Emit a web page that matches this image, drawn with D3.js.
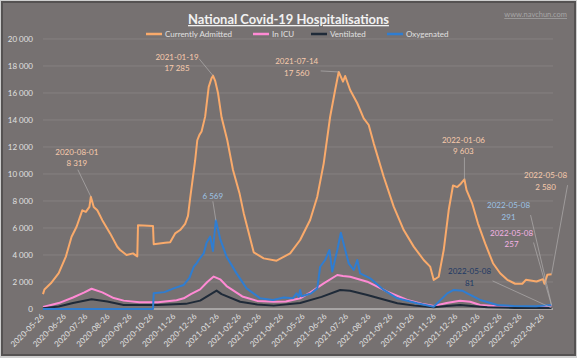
<!DOCTYPE html>
<html><head><meta charset="utf-8">
<script src="https://cdn.jsdelivr.net/npm/d3@7"></script>
<style>
html,body{margin:0;padding:0;background:#767171;}
svg{display:block;font-family:Lato,"Open Sans",sans-serif;}
</style></head>
<body>
<svg id="chart" width="577" height="358"></svg>
<script>
// ---------- DATA ----------
const startDate = "2020-05-26";
const seriesNames = ["Currently Admitted", "In ICU", "Ventilated", "Oxygenated"];

// days since startDate / values
const admittedDay = [0,2,11,22,32,40,47,55,60,65,67,71,76,83,94,104,108,117,126,132,133,154,155,163,171,178,185,192,199,203,206,209,213,216,219,222,227,232,236,238,241,245,250,258,266,275,281,287,295,309,327,346,360,374,384,393,402,409,414,420,423,430,440,449,456,463,477,491,505,519,533,542,547,554,561,568,574,580,585,590,593,601,609,619,630,640,650,661,671,676,691,700,702,706,712];
const admittedVal = [1100,1450,1900,2650,3880,5350,6090,7310,7190,7560,8319,7560,7310,6580,5600,4610,4370,4000,4120,3900,6200,6150,4800,4850,4900,4950,5600,5850,6300,6900,8200,9400,11000,12500,12900,13150,14250,16450,17100,17285,16900,16000,14200,12500,10300,8600,7100,5850,4200,3750,3580,4120,5110,6590,8320,10790,14240,16220,17560,16840,17260,16220,15240,14120,13630,12270,9800,7580,5850,4620,3630,3140,2150,2390,4370,7330,9150,9030,9280,9603,8800,7800,6330,4860,3390,2650,2160,1870,1870,2160,2040,2210,1870,2530,2580];

const icuDay = [0,22,42,58,68,83,99,113,135,161,187,197,207,220,230,239,248,257,264,279,300,323,340,360,372,393,412,420,430,454,482,510,530,547,565,584,598,612,636,659,690,712];
const icuVal = [150,440,850,1230,1500,1230,810,620,500,500,650,790,1100,1450,2000,2400,2200,1700,1450,930,600,540,550,790,1150,1900,2520,2450,2390,2020,1280,670,390,220,450,615,540,300,200,150,150,257];

const ventDay = [0,22,42,68,90,113,160,200,220,243,250,276,300,323,360,390,416,430,454,496,520,547,565,584,600,622,660,712];
const ventVal = [60,180,450,720,550,300,300,380,620,1360,1100,540,330,250,450,900,1410,1350,1040,420,250,125,230,300,220,125,80,81];

const oxyDay = [0,154,155,170,183,197,205,211,215,218,225,229,234,238,239,242,248,257,271,285,304,322,337,350,355,358,360,362,375,384,388,395,401,405,412,417,422,428,435,440,444,458,477,496,524,547,566,575,587,594,612,636,659,690,712];
const oxyVal = [0,0,1160,1250,1530,1780,2300,3130,3380,3630,4120,4900,5360,4300,5000,6569,5200,3870,2640,1530,790,670,850,800,1160,900,1410,950,1150,1530,3130,3630,4370,2770,4370,5650,4620,3380,2890,3630,2640,2270,1410,790,420,170,1160,1410,1360,1160,670,300,220,200,291];

const yTicks = [0,2000,4000,6000,8000,10000,12000,14000,16000,18000,20000];
const xTickLabels = ["2020-05-26","2020-06-26","2020-07-26","2020-08-26","2020-09-26","2020-10-26","2020-11-26","2020-12-26","2021-01-26","2021-02-26","2021-03-26","2021-04-26","2021-05-26","2021-06-26","2021-07-26","2021-08-26","2021-09-26","2021-10-26","2021-11-26","2021-12-26","2022-01-26","2022-02-26","2022-03-26","2022-04-26"];

// annotated points: series index, date, value
const annotSeries = [0,0,3,0,0,0,3,1,2];
const annotDate  = ["2020-08-01","2021-01-19","2021-01-23","2021-07-14","2022-01-06","2022-05-08","2022-05-08","2022-05-08","2022-05-08"];
const annotValue = [8319,17285,6569,17560,9603,2580,291,257,81];
const annotShowDate = [true,true,false,true,true,true,true,true,true];

// ---------- LAYOUT / STYLE ----------
const W = 577, H = 358;
const colors = ["#F9AA6B", "#FF8AD4", "#1F2A38", "#2F7DD1"];
const labelColors = ["#F8CBAD", "#F5B3E6", "#203864", "#9DC3E6"];
const parse = d3.utcParse("%Y-%m-%d");
const fmtDate = d3.utcFormat("%Y-%m-%d");
const locale = d3.formatLocale({decimal: ".", thousands: " ", grouping: [3], currency: ["", ""]});
const fmtNum = locale.format(",");
const t0 = parse(startDate);
const dayToDate = d => d3.utcDay.offset(t0, d);

const svg = d3.select("#chart");
svg.append("rect").attr("x", 0).attr("y", 0).attr("width", W).attr("height", H).attr("fill", "#CFCFCF");
svg.append("rect").attr("x", 2).attr("y", 2).attr("width", W - 4).attr("height", H - 5)
  .attr("fill", "#767171").attr("stroke", "#555252").attr("stroke-width", 2);

const x = d3.scaleUtc().domain([parse("2020-05-26"), parse("2022-05-10")]).range([43, 553]);
const y = d3.scaleLinear().domain([0, 20000]).range([309, 39]);

// gridlines
svg.append("g").selectAll("line").data(yTicks.filter(v => v > 0)).join("line")
  .attr("x1", 43).attr("x2", 553)
  .attr("y1", d => y(d)).attr("y2", d => y(d))
  .attr("stroke", "#8A8585").attr("stroke-width", 0.8);

// y axis
const yAxis = d3.axisLeft(y).tickValues(yTicks).tickFormat(fmtNum).tickSize(0).tickPadding(6);
const gy = svg.append("g").attr("transform", "translate(39,0)").call(yAxis);
gy.select(".domain").remove();
gy.selectAll("text").attr("fill", "#E0E0E0").style("font-size", "8px").style("font-family", "Lato");

// x axis
const xAxis = d3.axisBottom(x).tickValues(xTickLabels.map(parse)).tickFormat(fmtDate).tickSize(0);
const gx = svg.append("g").attr("transform", "translate(0,309)").call(xAxis);
gx.select(".domain").attr("stroke", "#D9D9D9").attr("stroke-width", 1).attr("d", "M43,0H553");
gx.selectAll("text").attr("fill", "#E0E0E0").style("font-size", "8px").style("font-family", "Lato")
  .attr("text-anchor", "end").attr("dy", "0").attr("y", 0)
  .attr("transform", "translate(1,8) rotate(-45)");

// lines
const seriesDays = [admittedDay, icuDay, ventDay, oxyDay];
const seriesVals = [admittedVal, icuVal, ventVal, oxyVal];
const line = d3.line().x(d => x(d[0])).y(d => y(d[1]));
seriesDays.forEach((days, i) => {
  const pts = days.map((d, k) => [dayToDate(d), seriesVals[i][k]]);
  svg.append("path").datum(pts).attr("d", line)
    .attr("fill", "none").attr("stroke", colors[i]).attr("stroke-width", 2)
    .attr("stroke-linejoin", "round");
});

// title
const title = svg.append("text").attr("x", 288.5).attr("y", 24).attr("text-anchor", "middle")
  .attr("fill", "#F2F2F2").style("font-weight", "bold").style("font-size", "13px")
  .style("text-decoration", "underline").text("National Covid-19 Hospitalisations");
{
  const w = title.node().getComputedTextLength();
  title.style("font-size", (13 * 201 / w).toFixed(2) + "px");
}

// watermark
svg.append("text").attr("x", 567).attr("y", 17).attr("text-anchor", "end")
  .attr("fill", "#A6A6A6").style("font-size", "7.5px").style("text-decoration", "underline")
  .text("www.navchun.com");

// legend
const legendX = [146, 253, 311, 387];
seriesNames.forEach((n, i) => {
  const g = svg.append("g").attr("transform", `translate(${legendX[i]},34)`);
  g.append("line").attr("x1", 0).attr("x2", 16).attr("y1", 0).attr("y2", 0)
    .attr("stroke", colors[i]).attr("stroke-width", 2.5);
  g.append("text").attr("x", 19).attr("y", 3).attr("fill", "#E0E0E0")
    .style("font-size", "8px").text(n);
});

// annotations: label centre offset from point (dx, dy), leader start offset
const annotLabelDX = [-14, -36, -3, -42, -1, -6, -43, -40, -82];
const annotLabelDY = [-39, -13, -24, -5, -34, -93, -94, -67, -31];
annotSeries.forEach((s, i) => {
  const px = x(parse(annotDate[i])), py = y(annotValue[i]);
  const cx = px + annotLabelDX[i], cy = py + annotLabelDY[i];
  const g = svg.append("g");
  const lines = annotShowDate[i] ? [annotDate[i], fmtNum(annotValue[i])] : [fmtNum(annotValue[i])];
  // leader
  const lx = annotShowDate[i] ? cx + 1 : cx;
  let ly = cy + (lines.length === 2 ? 12 : 5);
  let sx = lx, sy = ly;
  if (i === 1) { sx = cx + 22; sy = cy - 4; }
  if (i === 3) { sx = cx + 24; sy = cy + 4; }
  if (i >= 5) { sx = cx + 22 + (i === 8 ? 1 : 0); sy = cy + 4; }
  g.append("line").attr("x1", sx).attr("y1", sy).attr("x2", px).attr("y2", py)
    .attr("stroke", "#B0ADAD").attr("stroke-width", 0.7);
  lines.forEach((t, k) => {
    g.append("text").attr("x", cx).attr("y", cy - (lines.length - 1) * 5.75 + k * 11.5 + 3)
      .attr("text-anchor", "middle").attr("fill", labelColors[s])
      .style("font-size", "8px").text(t);
  });
});
</script>
</body></html>
